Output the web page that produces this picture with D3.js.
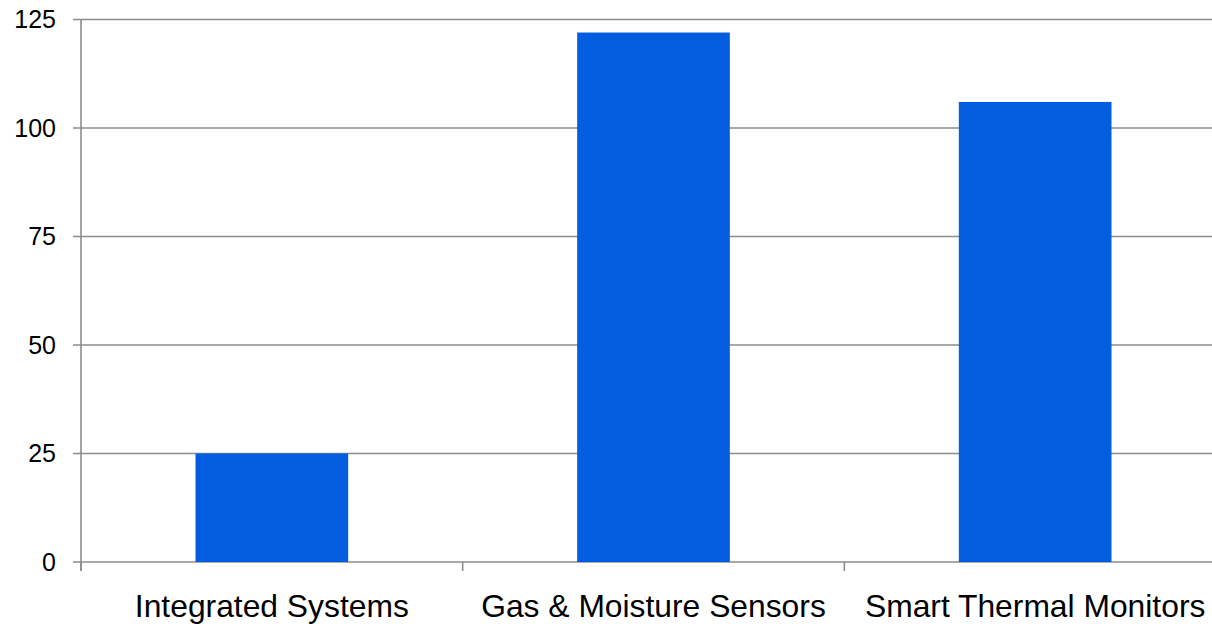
<!DOCTYPE html>
<html>
<head>
<meta charset="utf-8">
<script src="https://cdn.jsdelivr.net/npm/d3@7"></script>
<style>
  html, body { margin: 0; padding: 0; background: #ffffff; }
  svg { display: block; }
  text { font-family: "Liberation Sans", Arial, Helvetica, sans-serif; fill: #000; }
</style>
</head>
<body>
<svg id="chart" width="1212" height="624"></svg>
<script>
// Chart data
const categories = ["Integrated Systems", "Gas & Moisture Sensors", "Smart Thermal Monitors"];
const values = [25, 122, 106];
const yTicks = [0, 25, 50, 75, 100, 125];

const width = 1212, height = 624;
const plot = { left: 81, right: 1226, top: 19.5, bottom: 562 };

const svg = d3.select("#chart");

const x = d3.scaleBand()
  .domain(categories)
  .range([plot.left, plot.right])
  .paddingInner(0.6)
  .paddingOuter(0.3);

const y = d3.scaleLinear()
  .domain([0, 125])
  .range([plot.bottom, plot.top]);

const gridColor = "#8c8c8c";

// Horizontal gridlines with short ticks to the left of the axis
svg.append("g")
  .selectAll("line")
  .data(yTicks)
  .join("line")
  .attr("x1", plot.left - 8)
  .attr("x2", width)
  .attr("y1", d => y(d))
  .attr("y2", d => y(d))
  .attr("stroke", gridColor)
  .attr("stroke-width", 1.6);

// Bars
svg.append("g")
  .selectAll("rect")
  .data(values)
  .join("rect")
  .attr("x", (d, i) => x(categories[i]))
  .attr("y", d => y(d))
  .attr("width", x.bandwidth())
  .attr("height", d => y(0) - y(d))
  .attr("fill", "#035ddf");

// Vertical axis line
svg.append("line")
  .attr("x1", plot.left).attr("x2", plot.left)
  .attr("y1", y(125)).attr("y2", plot.bottom + 9)
  .attr("stroke", gridColor)
  .attr("stroke-width", 1.6);

// Category boundary ticks under the baseline
const step = x.step();
const boundaries = d3.range(categories.length + 1).map(i => plot.left + i * step);
svg.append("g")
  .selectAll("line")
  .data(boundaries)
  .join("line")
  .attr("x1", d => d).attr("x2", d => d)
  .attr("y1", plot.bottom).attr("y2", plot.bottom + 9)
  .attr("stroke", gridColor)
  .attr("stroke-width", 1.6);

// Y tick labels
svg.append("g")
  .selectAll("text")
  .data(yTicks)
  .join("text")
  .attr("x", 56)
  .attr("y", d => y(d))
  .attr("dy", "0.35em")
  .attr("text-anchor", "end")
  .style("font-size", "25px")
  .text(d => d);

// Category labels
svg.append("g")
  .selectAll("text")
  .data(categories)
  .join("text")
  .attr("x", d => x(d) + x.bandwidth() / 2)
  .attr("y", 617)
  .attr("text-anchor", "middle")
  .style("font-size", "31.8px")
  .text(d => d);
</script>
</body>
</html>
